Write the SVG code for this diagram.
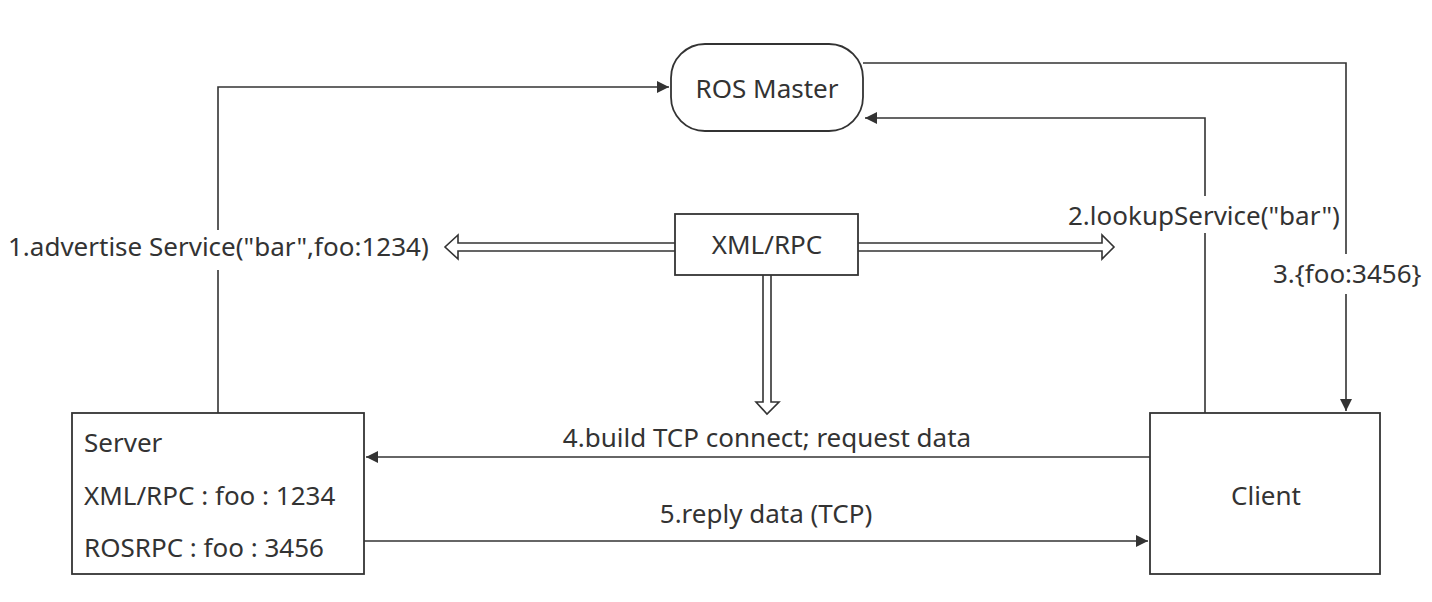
<svg xmlns="http://www.w3.org/2000/svg" width="1432" height="602" viewBox="0 0 1432 602">
<defs>
<style>
.n{fill:#fff;stroke:#333;stroke-width:1.8}
.t{font-family:"Noto Sans","Open Sans",sans-serif;font-size:26px;fill:#333}
.c{fill:none;stroke:#333;stroke-width:1.6}
.d{fill:#fff;stroke:#333;stroke-width:1.6;stroke-linejoin:miter}
.bg{fill:#fff}
</style>
<marker id="ah" viewBox="0 0 10 10" refX="10" refY="5" markerWidth="12" markerHeight="12" markerUnits="userSpaceOnUse" orient="auto">
<path d="M0,0 L10,5 L0,10 Z" fill="#333"/>
</marker>
</defs>
<rect width="1432" height="602" fill="#fff"/>
<g id="connectors">
<path class="c" d="M218,413 V87 H669" marker-end="url(#ah)"/>
<path class="c" d="M1205,413 V118 H865" marker-end="url(#ah)"/>
<path class="c" d="M863,63 H1346 V411" marker-end="url(#ah)"/>
<path class="c" d="M1150,457 H366" marker-end="url(#ah)"/>
<path class="c" d="M364,541 H1148" marker-end="url(#ah)"/>
<path class="d" d="M675,243 H458 V235 L445,247 L458,259 V251 H675"/>
<path class="d" d="M858,243 H1102 V235 L1114,247 L1102,259 V251 H858"/>
<path class="d" d="M763,275 V402 H756 L767,414 L779,402 H771 V275"/>
<rect class="bg" x="6" y="230" width="426" height="40"/>
<text class="t" x="8" y="256">1.advertise Service("bar",foo:1234)</text>
<rect class="bg" x="1066" y="196" width="276" height="37"/>
<text class="t" x="1068" y="225">2.lookupService("bar")</text>
<rect class="bg" x="1271" y="254" width="150" height="40"/>
<text class="t" x="1273" y="283">3.{foo:3456}</text>
<text class="t" x="767" y="447" text-anchor="middle">4.build TCP connect; request data</text>
<text class="t" x="766" y="523" text-anchor="middle">5.reply data (TCP)</text>
</g>
<g id="master">
<rect class="n" x="671" y="44" width="192" height="87" rx="34" ry="34"/>
<text class="t" x="767" y="98" text-anchor="middle">ROS Master</text>
</g>
<g id="xmlrpc">
<rect class="n" x="675" y="214" width="183" height="61"/>
<text class="t" x="767" y="254" text-anchor="middle">XML/RPC</text>
</g>
<g id="server">
<rect class="n" x="72" y="413" width="292" height="161"/>
<text class="t" x="84" y="452">Server</text>
<text class="t" x="84" y="505">XML/RPC : foo : 1234</text>
<text class="t" x="84" y="557">ROSRPC : foo : 3456</text>
</g>
<g id="client">
<rect class="n" x="1150" y="413" width="230" height="161"/>
<text class="t" x="1266" y="505" text-anchor="middle">Client</text>
</g>
</svg>
